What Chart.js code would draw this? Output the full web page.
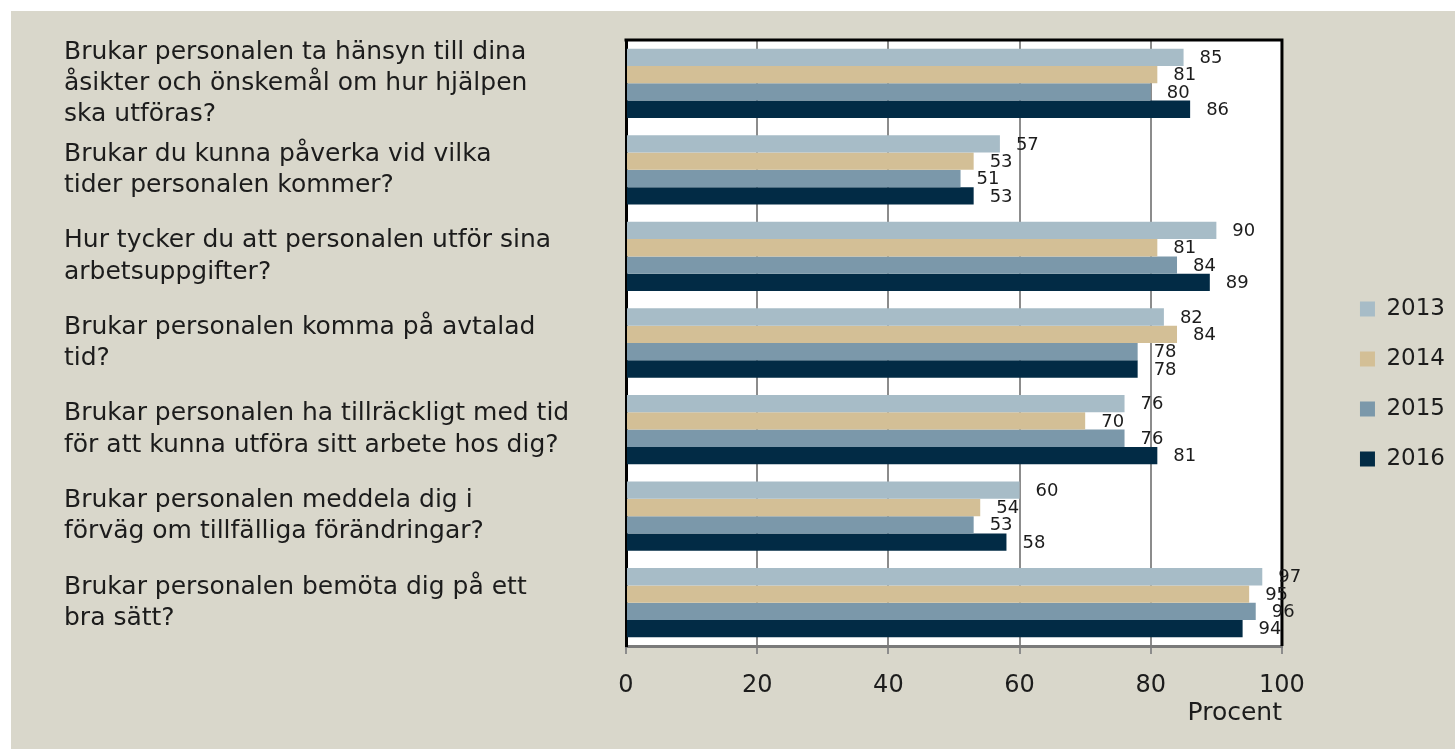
<!DOCTYPE html>
<html>
<head>
<meta charset="utf-8">
<script src="https://cdn.jsdelivr.net/npm/chart.js@4/dist/chart.umd.min.js"></script>
<style>
  body { margin: 0; background: #fff; }
  #wrap { position: absolute; left: 11px; top: 11px; width: 1444px; height: 738px; background: #d9d7cb; }
</style>
</head>
<body>
<div id="wrap"><canvas id="chart" width="1444" height="738"></canvas></div>
<script>
// questions, one array of lines per category
const questions = [
  ["Brukar personalen ta hänsyn till dina", "åsikter och önskemål om hur hjälpen", "ska utföras?"],
  ["Brukar du kunna påverka vid vilka", "tider personalen kommer?"],
  ["Hur tycker du att personalen utför sina", "arbetsuppgifter?"],
  ["Brukar personalen komma på avtalad", "tid?"],
  ["Brukar personalen ha tillräckligt med tid", "för att kunna utföra sitt arbete hos dig?"],
  ["Brukar personalen meddela dig i", "förväg om tillfälliga förändringar?"],
  ["Brukar personalen bemöta dig på ett", "bra sätt?"]
];
const years = ["2013", "2014", "2015", "2016"];
const values2013 = [85, 57, 90, 82, 76, 60, 97];
const values2014 = [81, 53, 81, 84, 70, 54, 95];
const values2015 = [80, 51, 84, 78, 76, 53, 96];
const values2016 = [86, 53, 89, 78, 81, 58, 94];
const xTicks = [0, 20, 40, 60, 80, 100];

const colors = ["#a7bcc7", "#d3bf96", "#7b98aa", "#022b45"];
const font = "'DejaVu Sans', sans-serif";
const textColor = "#1c1c1c";

// white plot area + black frame on top and right
const plotFrame = {
  id: "plotFrame",
  beforeDraw(chart) {
    const a = chart.chartArea;
    const ctx = chart.ctx;
    ctx.save();
    ctx.fillStyle = "#fff";
    ctx.fillRect(a.left, a.top, a.right - a.left, a.bottom - a.top);
    ctx.restore();
  },
  beforeDatasetsDraw(chart) {
    const a = chart.chartArea;
    const ctx = chart.ctx;
    ctx.save();
    ctx.strokeStyle = "#000";
    ctx.lineWidth = 3;
    ctx.beginPath();
    ctx.moveTo(a.left - 1.5, a.top);
    ctx.lineTo(a.right, a.top);
    ctx.lineTo(a.right, a.bottom);
    ctx.stroke();
    ctx.restore();
  }
};

// value next to each bar
const valueLabels = {
  id: "valueLabels",
  afterDatasetsDraw(chart) {
    const ctx = chart.ctx;
    ctx.save();
    ctx.font = "18px " + font;
    ctx.fillStyle = textColor;
    ctx.textBaseline = "middle";
    chart.data.datasets.forEach((ds, i) => {
      chart.getDatasetMeta(i).data.forEach((bar, j) => {
        ctx.fillText(ds.data[j], bar.x + 16, bar.y + 1);
      });
    });
    ctx.restore();
  }
};

const seriesValues = [values2013, values2014, values2015, values2016];

new Chart(document.getElementById("chart"), {
  type: "bar",
  data: {
    labels: questions,
    datasets: years.map((y, i) => ({
      label: y,
      data: seriesValues[i],
      backgroundColor: colors[i],
      borderWidth: 0,
      categoryPercentage: 0.8,
      barPercentage: 1.0
    }))
  },
  options: {
    indexAxis: "y",
    responsive: false,
    animation: false,
    layout: { padding: { left: 53, top: 29, right: 0, bottom: 21 } },
    scales: {
      x: {
        min: 0,
        max: 100,
        afterBuildTicks: (s) => { s.ticks = xTicks.map(v => ({ value: v })); },
        afterFit: (s) => { s.height = 82; },
        grid: { color: "#8c8c8c", lineWidth: 2, tickLength: 8, tickColor: "#8c8c8c", tickWidth: 2 },
        border: { color: "#7a7a7a", width: 3 },
        ticks: { color: textColor, font: { family: font, size: 24 }, padding: 17, maxRotation: 0, minRotation: 0 },
        title: {
          display: true,
          text: "Procent",
          align: "end",
          color: textColor,
          font: { family: font, size: 25 },
          padding: { top: 0, bottom: 0 }
        }
      },
      y: {
        afterFit: (s) => { s.width = 562; s.paddingTop = 0; s.paddingBottom = 0; },
        grid: { display: false },
        border: { color: "#000", width: 3 },
        ticks: {
          autoSkip: false,
          crossAlign: "far",
          color: textColor,
          font: { family: font, size: 25, lineHeight: 1.25 }
        }
      },
      yGap: {
        type: "category",
        position: "right",
        afterFit: (s) => { s.width = 51; s.paddingTop = 0; s.paddingBottom = 0; },
        grid: { display: false },
        border: { display: false },
        ticks: { display: false }
      }
    },
    plugins: {
      legend: {
        position: "right",
        labels: {
          color: textColor,
          font: { family: font, size: 23 },
          boxWidth: 15,
          boxHeight: 15,
          padding: 27
        }
      },
      tooltip: { enabled: false }
    }
  },
  plugins: [plotFrame, valueLabels]
});
</script>
</body>
</html>
